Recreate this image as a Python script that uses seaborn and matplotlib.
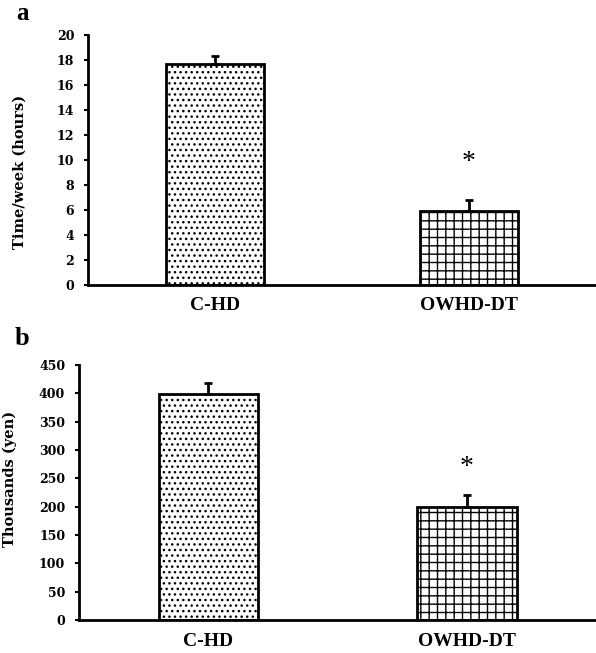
import numpy as np
import matplotlib
matplotlib.use("Agg")
import matplotlib.pyplot as plt
import seaborn as sns

# data
groups = ["C-HD", "OWHD-DT"]
hours_mean = [17.7, 5.9]
hours_err = [0.65, 0.9]
yen_mean = [398, 199]
yen_err = [21, 21]
hatches = ["...", "++"]

sns.set_theme(style="ticks")
plt.rcParams["hatch.linewidth"] = 1.0
plt.rcParams["font.family"] = ["DejaVu Serif"]
for k in ["text.color", "axes.labelcolor", "xtick.color", "ytick.color"]:
    plt.rcParams[k] = "black"

fig = plt.figure(figsize=(5.96, 6.53), dpi=100)
ax1 = fig.add_axes([0.148, 0.5636, 0.852, 0.3828])
ax2 = fig.add_axes([0.1326, 0.0505, 0.8674, 0.3905])


def panel(ax, means, errs, ylim, yticks, ylabel, star_gap, label_xy):
    sns.barplot(x=groups, y=means, ax=ax, color="white", edgecolor="black",
                linewidth=2, width=0.385, saturation=1)
    for p, h in zip(ax.patches, hatches):
        p.set_hatch(h)
        p.set_facecolor("white")
    x = np.arange(len(groups))
    ax.errorbar(x, means, yerr=[np.zeros(len(errs)), errs], fmt="none",
                ecolor="black", elinewidth=2, capsize=3, capthick=2, zorder=5)
    # significance mark on the second group
    ax.text(1, means[1] + errs[1] + star_gap, "*", ha="center", va="center",
            fontsize=20, family="Liberation Serif")
    ax.set_xlim(-0.5, 1.5)
    ax.set_ylim(*ylim)
    ax.set_yticks(yticks)
    ax.set_ylabel(ylabel, fontsize=10.5, fontweight="bold")
    ax.yaxis.set_label_coords(*label_xy)
    ax.set_xlabel("")
    sns.despine(ax=ax)
    for s in ["left", "bottom"]:
        ax.spines[s].set_linewidth(2)
        ax.spines[s].set_color("black")
    ax.tick_params(axis="y", direction="out", length=3, width=1.5,
                   labelsize=9, pad=7)
    ax.tick_params(axis="x", length=0, pad=9)
    for t in ax.get_yticklabels():
        t.set_fontweight("bold")
    for t in ax.get_xticklabels():
        t.set_fontweight("bold")
        t.set_fontsize(14)
        t.set_family("Liberation Serif")


panel(ax1, hours_mean, hours_err, (0, 20), range(0, 21, 2),
      "Time/week (hours)", 3.0, (-0.121, 0.452))
panel(ax2, yen_mean, yen_err, (0, 450), range(0, 451, 50),
      "Thousands (yen)", 50, (-0.12, 0.553))

fig.text(0.027, 0.97, "a", fontsize=18, fontweight="bold",
         family="Liberation Serif", va="baseline")
fig.text(0.025, 0.4717, "b", fontsize=19, fontweight="bold",
         family="Liberation Serif", va="baseline")

fig.savefig("out.png", dpi=100, facecolor="white")
